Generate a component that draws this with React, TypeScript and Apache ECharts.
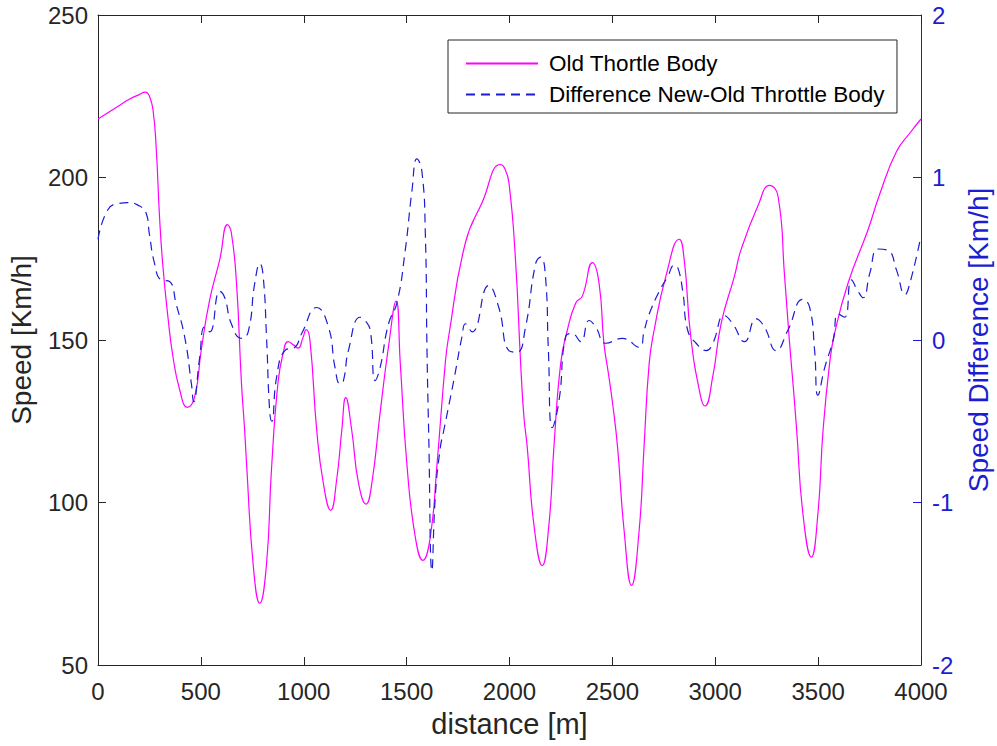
import React, { useEffect, useRef } from "react";
import * as echarts from "echarts";

// Old throttle body speed (km/h) vs distance (m)
const speedDist = [
  0, 50, 100, 150, 200, 231, 250, 267, 283, 299, 315, 340, 364, 397, 434, 470, 502, 543, 592, 629,
  648, 673, 697, 713, 722, 754, 786, 819, 843, 875, 900, 924, 950, 973, 995, 1012, 1030, 1063, 1095,
  1131, 1160, 1185, 1204, 1233, 1266, 1303, 1331, 1371, 1412, 1449, 1469, 1501, 1542, 1579, 1615,
  1648, 1688, 1704, 1786, 1867, 1956, 1975, 1997, 2029, 2054, 2070, 2086, 2118, 2159, 2192, 2216,
  2249, 2281, 2322, 2354, 2403, 2435, 2459, 2480, 2500, 2525, 2557, 2593, 2630, 2654, 2679, 2703,
  2760, 2825, 2849, 2881, 2929, 2950, 2988, 3029, 3093, 3126, 3207, 3264, 3305, 3337, 3360, 3380,
  3396, 3426, 3467, 3499, 3524, 3556, 3580, 3646, 3743, 3800, 3881, 3950, 4000,
];
const speedVals = [
  218, 220, 222, 224, 225.5, 226.3, 225, 221, 209, 188, 173, 157, 145, 134.7, 129.3, 132.6, 147,
  162.4, 174.8, 185.5, 183, 167.6, 137, 122, 112, 81, 69, 81, 110, 137, 146, 149.5, 148.5, 147.5,
  150.5, 153.2, 150, 122.3, 106, 97.6, 107, 122.3, 132.3, 122.3, 106, 99.5, 106, 127.5, 148, 162,
  143, 112, 89.4, 82.2, 89.4, 112, 143, 151, 180, 192.3, 204, 203, 198.5, 174.8, 143, 126.4, 117.2,
  93.5, 80.6, 93.5, 117.2, 142.9, 153, 161.4, 163.5, 173.8, 167.6, 149, 140, 131, 117.2, 91.4, 74.5,
  91.4, 117.2, 142.9, 153, 169.6, 181, 174.8, 151, 132.6, 129.7, 138.8, 155.2, 169.6, 177.9, 191.2,
  197.6, 194.3, 169.6, 150, 135, 122, 96.6, 83.2, 96.6, 122.3, 142.9, 152, 167.6, 184, 195, 208,
  214, 218,
];

// Difference new - old throttle body (km/h) vs distance (m)
const diffDist = [
  0, 47, 100, 145, 194, 234, 250, 275, 307, 348, 380, 421, 454, 465, 494, 518, 543, 592, 616, 648,
  697, 730, 762, 787, 803, 819, 835, 845, 868, 908, 957, 990, 1063, 1120, 1152, 1176, 1193, 1217,
  1274, 1298, 1323, 1347, 1371, 1412, 1453, 1493, 1526, 1550, 1574, 1591, 1599, 1607, 1623, 1640,
  1664, 1680, 1729, 1769, 1786, 1818, 1899, 1948, 1997, 2037, 2078, 2127, 2151, 2175, 2189, 2208,
  2241, 2273, 2305, 2346, 2387, 2419, 2468, 2549, 2630, 2655, 2679, 2728, 2769, 2801, 2817, 2842,
  2866, 2907, 2956, 2988, 3044, 3085, 3142, 3199, 3239, 3296, 3353, 3426, 3459, 3483, 3499, 3532,
  3573, 3597, 3629, 3662, 3694, 3719, 3751, 3792, 3841, 3881, 3922, 3946, 4000,
];
const diffVals = [
  0.62, 0.8, 0.84, 0.845, 0.83, 0.78, 0.65, 0.47, 0.37, 0.36, 0.22, 0.02, -0.27, -0.38, -0.11, 0.08,
  0.05, 0.3, 0.26, 0.1, 0.01, 0.05, 0.35, 0.47, 0.39, 0.02, -0.45, -0.5, -0.23, -0.065, -0.045, 0.04,
  0.2, 0.08, -0.17, -0.27, -0.25, -0.065, 0.14, 0.12, 0.06, -0.25, -0.17, 0.1, 0.23, 0.55, 0.92,
  1.115, 1.04, 0.65, -0.065, -0.56, -1.42, -0.95, -0.66, -0.56, -0.25, 0.02, 0.1, 0.05, 0.335, 0.2,
  -0.065, -0.075, 0.08, 0.47, 0.51, 0.39, -0.065, -0.54, -0.37, 0.02, 0.04, -0.01, 0.12, 0.08, -0.02,
  0.01, -0.045, 0.06, 0.16, 0.3, 0.39, 0.46, 0.45, 0.3, 0.06, -0.02, -0.065, -0.02, 0.15, 0.1, -0.01,
  0.13, 0.08, -0.065, 0.06, 0.25, 0.2, -0.065, -0.34, -0.17, 0.0, 0.16, 0.14, 0.37, 0.3, 0.26, 0.41,
  0.56, 0.55, 0.43, 0.28, 0.35, 0.64,
];

const xTicks = [0, 500, 1000, 1500, 2000, 2500, 3000, 3500, 4000];
const seriesNames = ["Old Thortle Body", "Difference New-Old Throttle Body"];

const FONT = "'Liberation Sans', Arial, Helvetica, sans-serif";
const AXIS = "#262626";
const BLUE = "#1c1cd2";
const plain = (v: number) => String(v);

export default function App() {
  const ref = useRef<HTMLDivElement>(null);
  useEffect(() => {
    document.body.style.margin = "0";
    document.documentElement.style.overflow = "hidden";
    document.body.style.overflow = "hidden";
    if (!ref.current) return;
    const chart = echarts.init(ref.current, undefined, { renderer: "svg", width: 997, height: 746 });
    const speedData = speedDist.map((d, i) => [d, speedVals[i]]);
    const diffData = diffDist.map((d, i) => [d, diffVals[i]]);
    const xBase = {
      type: "value" as const,
      min: xTicks[0],
      max: xTicks[xTicks.length - 1],
      interval: 500,
      splitLine: { show: false },
      axisLine: { show: true, onZero: false, lineStyle: { color: AXIS, width: 1 } },
      axisTick: { show: true, inside: true, length: 8, lineStyle: { color: AXIS } },
    };
    chart.setOption({
      animation: false,
      backgroundColor: "#fff",
      grid: { left: 98, right: 76, top: 15, bottom: 81, containLabel: false, outerBoundsMode: "none" },
      legend: {
        show: true,
        data: seriesNames,
        orient: "vertical",
        left: 448,
        top: 40,
        padding: [12, 12, 7, 17],
        itemWidth: 72,
        itemHeight: 14,
        itemGap: 8,
        itemStyle: { opacity: 0 },
        borderColor: AXIS,
        borderWidth: 1,
        backgroundColor: "#fff",
        textStyle: { fontFamily: FONT, fontSize: 22.5, color: "#000", padding: [0, 0, 0, 6] },
      },
      xAxis: [
        {
          ...xBase,
          position: "bottom",
          name: "distance [m]",
          nameLocation: "middle",
          nameGap: 44,
          nameTextStyle: { fontFamily: FONT, fontSize: 29, color: AXIS },
          axisLabel: { show: true, margin: 14, fontFamily: FONT, fontSize: 24, color: AXIS, formatter: plain },
        },
        {
          ...xBase,
          position: "top",
          axisLabel: { show: false },
        },
      ],
      yAxis: [
        {
          type: "value",
          position: "left",
          min: 50,
          max: 250,
          interval: 50,
          name: "Speed [Km/h]",
          nameLocation: "middle",
          nameRotate: 90,
          nameGap: 63,
          nameTextStyle: { fontFamily: FONT, fontSize: 28, color: AXIS },
          splitLine: { show: false },
          axisLine: { show: true, onZero: false, lineStyle: { color: AXIS, width: 1 } },
          axisTick: { show: true, inside: true, length: 8, lineStyle: { color: AXIS } },
          axisLabel: { margin: 10, fontFamily: FONT, fontSize: 24, color: AXIS, formatter: plain },
        },
        {
          type: "value",
          position: "right",
          min: -2,
          max: 2,
          interval: 1,
          name: "Speed Difference [Km/h]",
          nameLocation: "middle",
          nameRotate: 90,
          nameGap: 42,
          nameTextStyle: { fontFamily: FONT, fontSize: 28, color: BLUE },
          splitLine: { show: false },
          axisLine: { show: true, onZero: false, lineStyle: { color: BLUE, width: 1 } },
          axisTick: { show: true, inside: true, length: 8, lineStyle: { color: BLUE } },
          axisLabel: { margin: 11, fontFamily: FONT, fontSize: 24, color: BLUE, formatter: plain },
        },
      ],
      series: [
        {
          name: seriesNames[0],
          type: "line",
          xAxisIndex: 0,
          yAxisIndex: 0,
          data: speedData,
          showSymbol: false,
          symbol: "none",
          smooth: 0.5,
          lineStyle: { color: "#ff00ff", width: 1.2 },
          itemStyle: { color: "#ff00ff" },
          z: 3,
        },
        {
          name: seriesNames[1],
          type: "line",
          xAxisIndex: 0,
          yAxisIndex: 1,
          data: diffData,
          showSymbol: false,
          symbol: "none",
          smooth: 0.5,
          lineStyle: { color: BLUE, width: 1.2, type: [9, 6] },
          itemStyle: { color: BLUE },
          z: 4,
        },
      ],
    });
    return () => chart.dispose();
  }, []);
  return <div ref={ref} style={{ width: 997, height: 746 }} />;
}
